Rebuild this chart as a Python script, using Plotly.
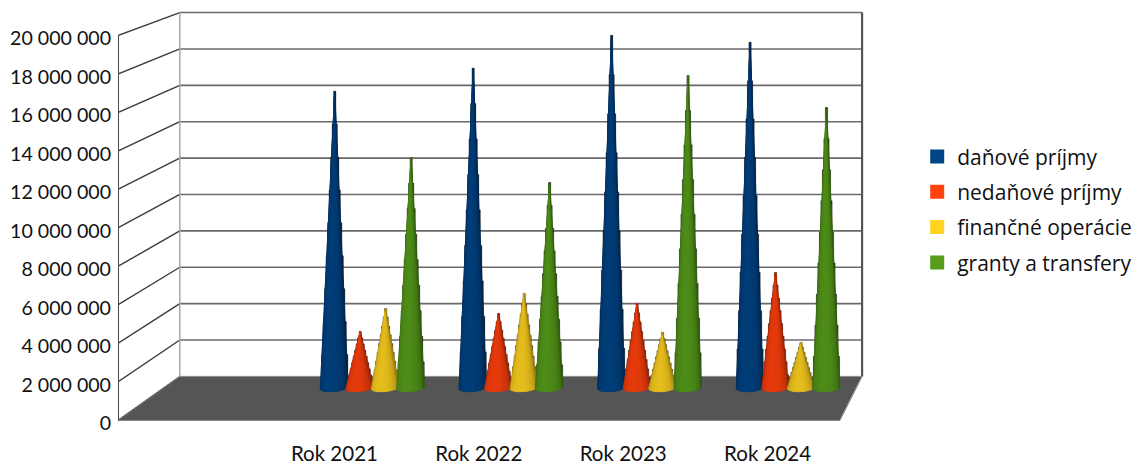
import math
import plotly.graph_objects as go

categories = ["Rok 2021", "Rok 2022", "Rok 2023", "Rok 2024"]
danove = [16050000, 17300000, 19070000, 18700000]
nedanove = [3030000, 4000000, 4550000, 6230000]
financne = [4280000, 5100000, 2980000, 2440000]
granty = [12460000, 11100000, 16900000, 15170000]
series_names = ["daňové príjmy", "nedaňové príjmy", "finančné operácie", "granty a transfery"]
series_values = [danove, nedanove, financne, granty]
series_colors = ["#004586", "#ff420e", "#ffd320", "#579d1c"]
tick_values = [0, 2000000, 4000000, 6000000, 8000000, 10000000, 12000000, 14000000, 16000000, 18000000, 20000000]
tick_labels = ["0", "2 000 000", "4 000 000", "6 000 000", "8 000 000", "10 000 000",
               "12 000 000", "14 000 000", "16 000 000", "18 000 000", "20 000 000"]

W, H = 1140, 464
ML, MB = 118, 27
PX_PER_CAT = 144.4
PX_PER_VAL = 19.25e-6
X0_PX, Y0_PX = 190.0, 420.5
xrange_ = [(ML - X0_PX) / PX_PER_CAT, (W - X0_PX) / PX_PER_CAT]
yrange_ = [(Y0_PX - (H - MB)) / PX_PER_VAL, Y0_PX / PX_PER_VAL]

# perspective: depth 0 = front, depth 1 = back wall
XV, YV, SHRINK = 7.306, 41.66e6, 0.055


def project(x, v, d):
    s = 1 - SHRINK * d
    return XV + (x - XV) * s, YV + (v - YV) * s


def shade(color, f):
    r, g, b = int(color[1:3], 16), int(color[3:5], 16), int(color[5:7], 16)
    return f"rgb({int(r*f)},{int(g*f)},{int(b*f)})"


fig = go.Figure()


def line(points, color, width):
    xs, ys = zip(*[project(*p) for p in points])
    fig.add_trace(go.Scatter(x=xs, y=ys, mode="lines", line=dict(color=color, width=width),
                             showlegend=False, hoverinfo="skip", cliponaxis=False))


XL, XR = -0.5, 4.5
# floor
fx, fy = zip(*[project(*p) for p in [(XL, 0, 0), (XR, 0, 0), (XR, 0, 1), (XL, 0, 1), (XL, 0, 0)]])
fig.add_trace(go.Scatter(x=fx, y=fy, mode="lines", fill="toself", fillcolor="#555555",
                         line=dict(color="#8a8a8a", width=1), showlegend=False, hoverinfo="skip", cliponaxis=False))
# gridlines
for v in tick_values[1:]:
    line([(XL, v, 1), (XR, v, 1)], "#6a6a6a", 1.6)
    line([(XL, v, 0), (XL, v, 1)], "#3a3a3a", 1.4)
line([(XL, 0, 0), (XL, 0, 1)], "#666666", 1.2)
line([(XL, 0, 1), (XL, 20000000, 1)], "#a8a8a8", 1.5)
line([(XR, 0, 1), (XR, 20000000, 1)], "#555555", 2.2)
line([(XR, 0, 0), (XR, 0, 1)], "#999999", 1)
line([(XL, 0, 0), (XL, 20000000, 0)], "#484848", 2.4)

# cones
DEPTH = 0.75
RX, RD = 0.0975, 0.10
SPACING = 0.184
CENTER_SHIFT = 0.007
STEPS = 9
BANDS = 14


def pt(cx, val, t, f, rs):
    return project(cx + RX * rs * math.cos(t), val * f, DEPTH + RD * rs * math.sin(t))


def add_poly(xs, ys, c):
    fig.add_trace(go.Scatter(x=xs, y=ys, mode="lines", fill="toself", fillcolor=c,
                             line=dict(color=c, width=0.4), showlegend=False,
                             hoverinfo="skip", cliponaxis=False))


for si, (name, vals, col) in enumerate(zip(series_names, series_values, series_colors)):
    # dark stepped silhouette behind the smooth cone
    xs, ys = [], []
    for ci, val in enumerate(vals):
        cx = ci + 1 + (si - 1.5) * SPACING + CENTER_SHIFT
        poly = []
        for k in range(STEPS):
            rs = 1 - (k + 0.25) / STEPS
            poly += [pt(cx, val, math.pi, k / STEPS, rs), pt(cx, val, math.pi, (k + 1) / STEPS, rs)]
        for k in range(STEPS - 1, -1, -1):
            rs = 1 - (k + 0.25) / STEPS
            poly += [pt(cx, val, 0, (k + 1) / STEPS, rs), pt(cx, val, 0, k / STEPS, rs)]
        poly.append(poly[0])
        xs += [p[0] for p in poly] + [None]
        ys += [p[1] for p in poly] + [None]
    add_poly(xs, ys, shade(col, 0.22))
    # solid cone under the shaded bands, so that no dark seams show through
    xs, ys = [], []
    for ci, val in enumerate(vals):
        cx = ci + 1 + (si - 1.5) * SPACING + CENTER_SHIFT
        poly = [pt(cx, val, math.pi + math.pi * b / BANDS, 0, 1) for b in range(BANDS + 1)]
        poly += [pt(cx, val, 0, 1, 0), poly[0]]
        xs += [p[0] for p in poly] + [None]
        ys += [p[1] for p in poly] + [None]
    add_poly(xs, ys, shade(col, 0.80))
    # smooth shaded bands
    for b in range(BANDS):
        t1 = math.pi + math.pi * b / BANDS
        t2 = math.pi + math.pi * (b + 1) / BANDS
        mid = (b + 0.5) / BANDS
        light = math.sin(math.pi * mid) ** 0.35
        factor = 0.30 + 0.60 * light
        xs, ys = [], []
        for ci, val in enumerate(vals):
            cx = ci + 1 + (si - 1.5) * SPACING + CENTER_SHIFT
            poly = [pt(cx, val, t1, 0, 1), pt(cx, val, t1, 1, 0), pt(cx, val, t2, 0, 1), pt(cx, val, t1, 0, 1)]
            xs += [p[0] for p in poly] + [None]
            ys += [p[1] for p in poly] + [None]
        add_poly(xs, ys, shade(col, factor))

# legend
for name, col in zip(series_names, series_colors):
    fig.add_trace(go.Scatter(x=[None], y=[None], mode="markers", name=name, legendgroup=name,
                             marker=dict(symbol="square", size=14, color=col), hoverinfo="skip"))

fig.update_layout(
    width=W, height=H, margin=dict(l=ML, r=0, t=0, b=MB, pad=0),
    paper_bgcolor="white", plot_bgcolor="white",
    font=dict(family="Lato", size=19, color="#111111"),
    xaxis=dict(range=xrange_, tickmode="array", tickvals=[1, 2, 3, 4], ticktext=categories,
               showgrid=False, zeroline=False, showline=False, ticks="", tickfont=dict(size=20.5),
               ticklabelstandoff=2),
    yaxis=dict(range=yrange_, tickmode="array", tickvals=tick_values, ticktext=tick_labels,
               showgrid=False, zeroline=False, showline=False, ticks="", tickfont=dict(size=19.6),
               ticklabelstandoff=6, ticklabelshift=3),
    legend=dict(x=0.782, y=0.688, xanchor="left", yanchor="top", traceorder="grouped",
                tracegroupgap=5, itemwidth=30, font=dict(family="Open Sans", size=21),
                bgcolor="rgba(0,0,0,0)"),
)
fig.write_html("out.html", config={"displayModeBar": False},
               post_script="document.body.style.margin='0';")
